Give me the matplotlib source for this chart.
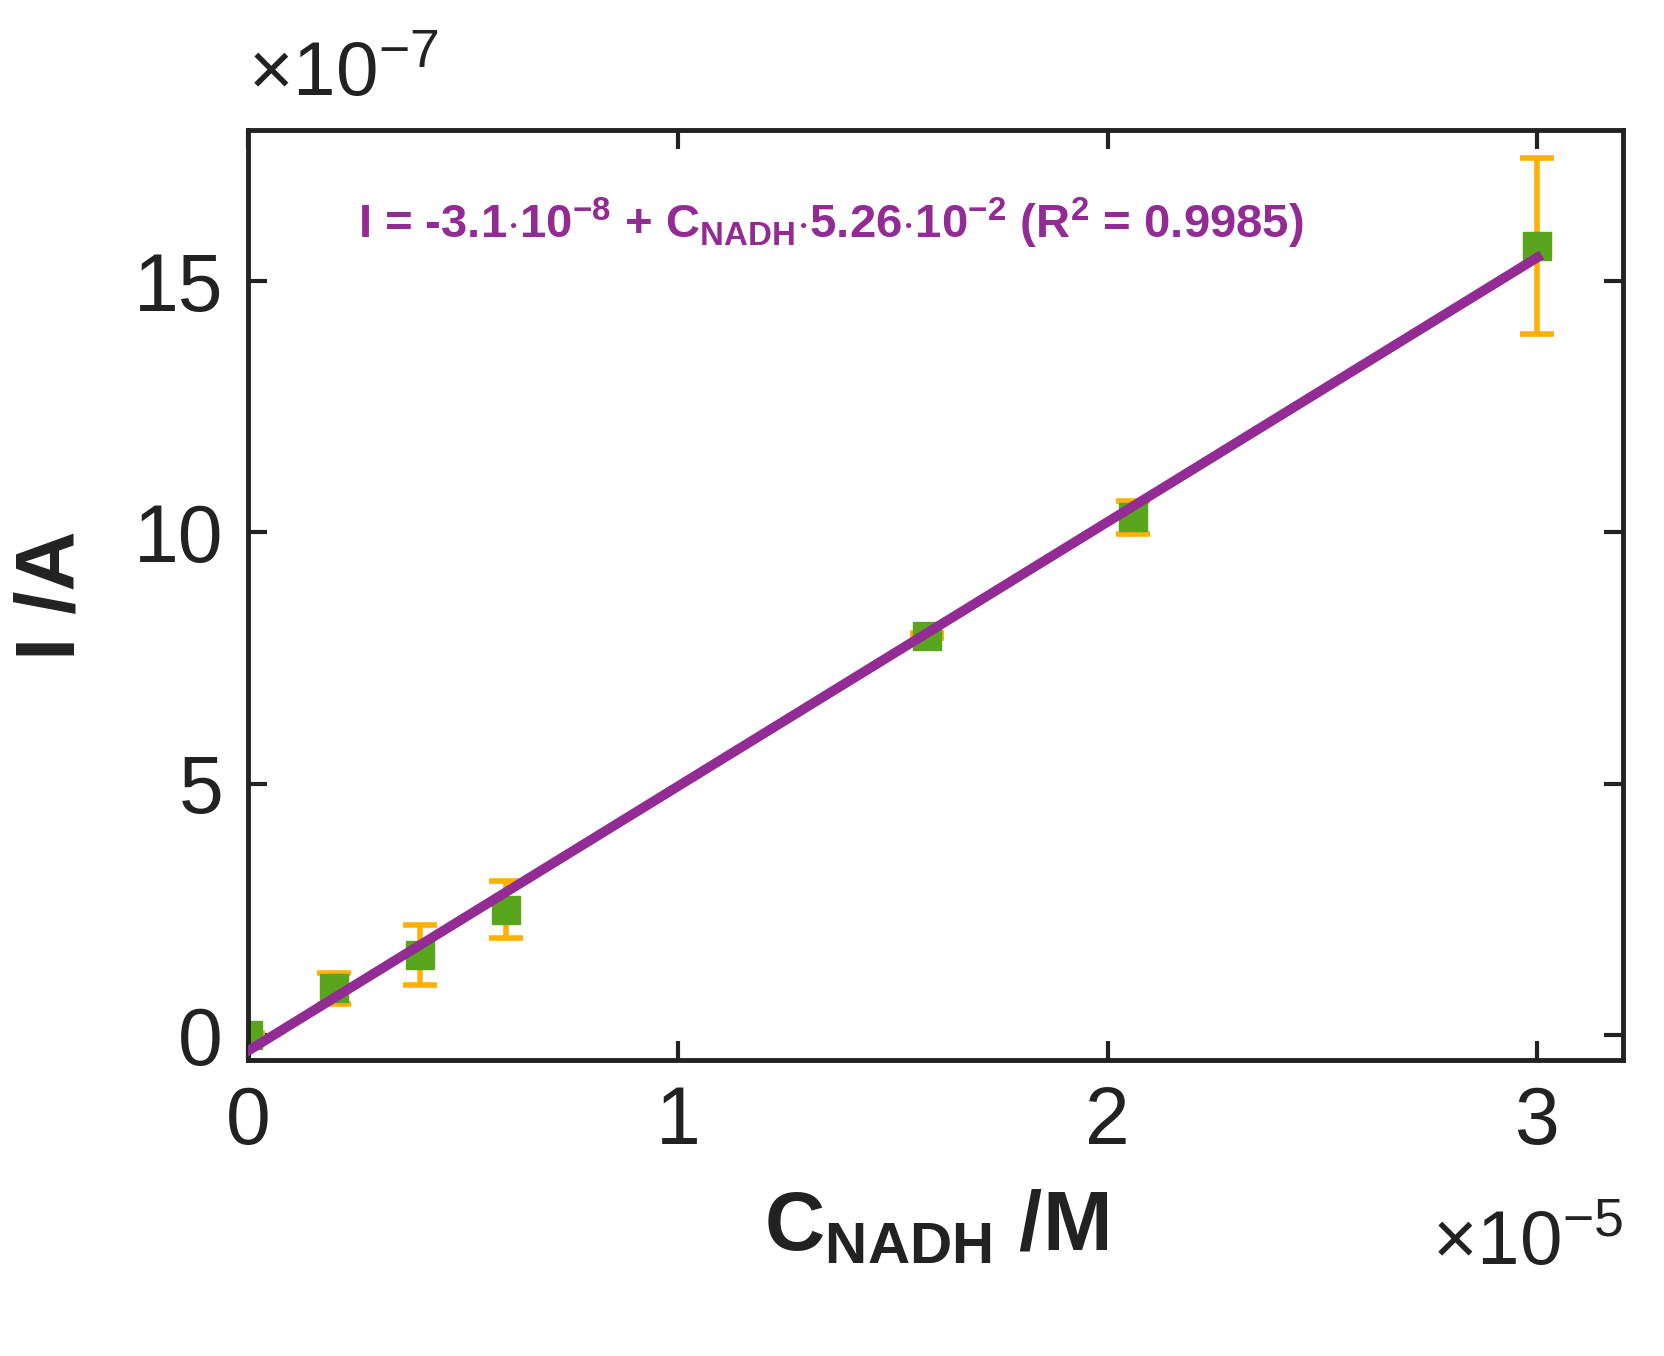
import matplotlib
matplotlib.use('Agg')
import matplotlib.pyplot as plt
import numpy as np

plt.rcParams['font.family'] = ['Liberation Sans', 'DejaVu Sans']
plt.rcParams['mathtext.fontset'] = 'custom'
plt.rcParams['mathtext.rm'] = 'Liberation Sans'
plt.rcParams['mathtext.bf'] = 'Liberation Sans:bold'
plt.rcParams['mathtext.it'] = 'Liberation Sans:italic'
plt.rcParams['axes.unicode_minus'] = False

# data (concentration in M, current in A)
conc = [0.0, 0.2e-5, 0.4e-5, 0.6e-5, 1.58e-5, 2.06e-5, 3.0e-5]
current = [0.0, 0.93e-7, 1.6e-7, 2.5e-7, 7.95e-7, 10.3e-7, 15.7e-7]
current_err = [0.05e-7, 0.3e-7, 0.6e-7, 0.57e-7, 0.05e-7, 0.33e-7, 1.75e-7]
intercept = -3.1e-8
slope = 5.26e-2

xs = np.array(conc) / 1e-5
ys = np.array(current) / 1e-7
es = np.array(current_err) / 1e-7

fig = plt.figure(figsize=(16.65, 13.56), dpi=100)
ax = fig.add_axes([0.149, 0.218, 0.826, 0.686])

ax.errorbar(xs, ys, yerr=es, fmt='s', color='#5aa51e', ms=20, ecolor='#ffb000',
            elinewidth=4, capsize=12, capthick=4, zorder=2)
fit_x = np.array([0.0, conc[-1]])
fit_y = (intercept + slope * fit_x) / 1e-7
ax.plot(fit_x / 1e-5, fit_y, color='#922b93', lw=7, zorder=3)

ax.set_xlim(0, 3.2)
ax.set_ylim(-0.5, 18)
ax.set_xticks([0, 1, 2, 3])
ax.set_yticks([0, 5, 10, 15])
ax.tick_params(direction='in', length=14, width=3, labelsize=58, pad=18,
               top=True, right=True, colors='#222222')
for s in ax.spines.values():
    s.set_linewidth(3.5)
    s.set_color('#222222')

ax.set_ylabel('I /A', fontsize=60, fontweight='bold', labelpad=30, color='#222222')
ax.set_xlabel(r'$\mathbf{C_{NADH}}$ /M', fontsize=60, fontweight='bold', labelpad=20,
              color='#222222')

ax.text(0.0, 1.02, r'$\times10^{-7}$', transform=ax.transAxes, fontsize=55,
        ha='left', va='bottom', color='#222222')
ax.text(1.0, -0.16, r'$\times10^{-5}$', transform=ax.transAxes, fontsize=55,
        ha='right', va='top', color='#222222')
ax.text(0.08, 0.9,
        r'I = -3.1$\cdot$10$^{\mathbf{-8}}$ + C$_{\mathbf{NADH}}$$\cdot$5.26$\cdot$10$^{\mathbf{-2}}$'
        r' (R$^{\mathbf{2}}$ = 0.9985)',
        transform=ax.transAxes, fontsize=34, fontweight='bold', color='#922b93',
        ha='left', va='center')

fig.savefig('out.png', dpi=100)
